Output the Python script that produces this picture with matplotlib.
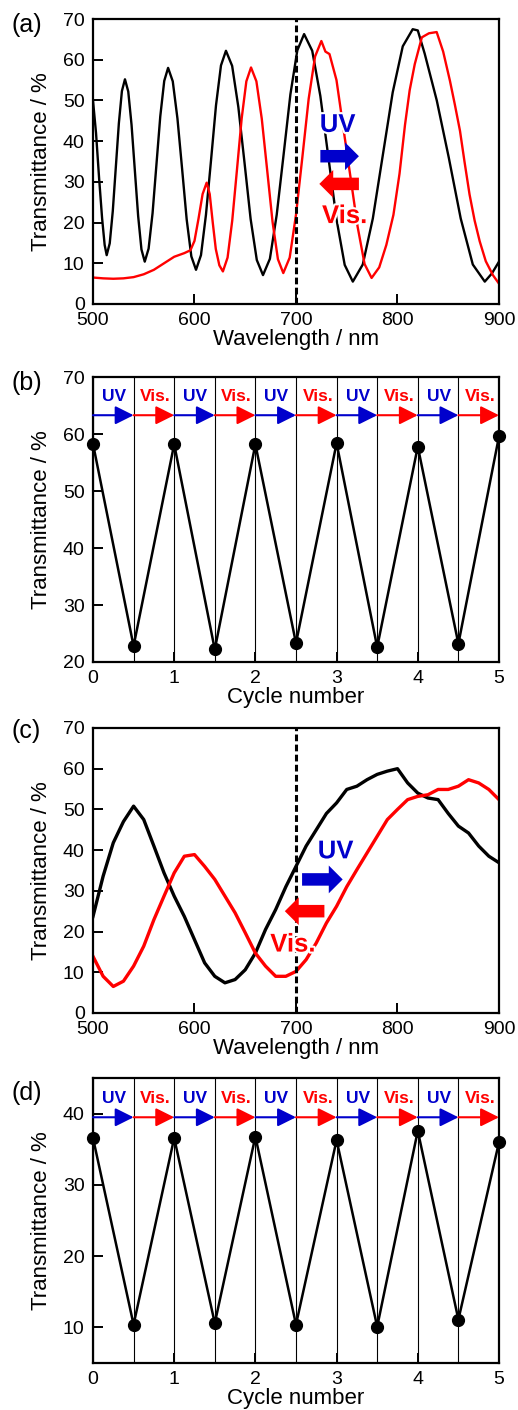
import matplotlib
matplotlib.use("Agg")
import matplotlib.pyplot as plt
import matplotlib.patheffects as pe

plt.rcParams['font.family'] = ['Liberation Sans', 'DejaVu Sans']

BLUE = '#0000cc'
RED = '#ff0000'

# ---- panel (a): spectra ----
a_black_wl = [500, 503, 506, 509, 511.5, 513.5, 516.5, 519.5, 522.5, 525.5, 528.5, 531.5,
              534.75, 538, 541.25, 544.5, 547.75, 551, 554.8, 558.7, 562.5, 566.3, 570.2, 574,
              578.6, 583.2, 587.8, 592.3, 596.9, 601.5, 606.4, 611.3, 616.3, 621.2, 626.1, 631,
              637.1, 643.2, 649.3, 655.3, 661.4, 667.5, 674.3, 681, 687.8, 694.5, 701.3, 708,
              716, 724, 732, 740, 748, 756, 765.8, 775.7, 785.5, 795.3, 805.2, 815, 820,
              826.8, 838.7, 850.5, 862.3, 874.2, 886, 893, 900]
a_black_t = [50, 42, 31, 21, 14.5, 12, 14.9, 22.8, 33.6, 44.4, 52.3, 55.2,
             52.2, 44, 32.8, 21.6, 13.4, 10.4, 13.6, 22.3, 34.2, 46.1, 54.8, 58,
             54.7, 45.6, 33.2, 20.8, 11.7, 8.4, 12, 21.9, 35.3, 48.8, 58.6, 62.2,
             58.5, 48.4, 34.7, 20.9, 10.8, 7.1, 11.1, 21.9, 36.7, 51.5, 62.3, 66.3,
             62.2, 51.1, 35.9, 20.7, 9.6, 5.5, 9.7, 21, 36.5, 52, 63.3, 67.5, 67.2,
             61.5, 50, 36, 21, 9.7, 5.5, 7.5, 10.4]
a_red_wl = [500, 510, 520, 530, 540, 550, 560, 570, 580, 590, 596, 600, 604, 608, 612,
            615, 618, 621, 624.5, 628, 632.6, 637.2, 641.9, 646.5, 651.1, 655.7,
            661, 666.3, 671.6, 676.9, 682.2, 687.5, 693.8, 700, 706.3, 712.5, 718.8, 725,
            729, 733, 739.9, 746.8, 753.8, 760.7, 767.6, 774.5, 782, 789, 796, 802, 807.4,
            812, 817, 824, 831, 838.6, 845, 851.7, 856.5, 861.6, 866, 871, 876, 881, 887,
            894, 900]
a_red_t = [6.5, 6.3, 6.2, 6.3, 6.6, 7.3, 8.4, 10, 11.6, 12.5, 13.2, 15.5, 21, 27, 29.8,
           27, 20, 13.5, 9.5, 8, 11.4, 20.5, 33.1, 45.6, 54.7, 58.1,
           54.7, 45.5, 32.9, 20.2, 11, 7.6, 11.4, 21.9, 36.1, 50.4, 60.8, 64.6,
           62, 61.4, 55, 43, 31, 19, 9.8, 6.4, 9, 14.5, 21.9, 32, 44,
           52.5, 58.9, 65.5, 66.5, 66.8, 62, 54.8, 49, 42.5, 35, 26.9, 20.5, 15.4, 10.5,
           7.1, 5]

# ---- panel (c): spectra ----
c_wl = [500, 510, 520, 530, 540, 550, 560, 570, 580, 590, 600, 610, 620, 630, 640,
        650, 660, 670, 680, 690, 700, 710, 720, 730, 740, 750, 760, 770, 780, 790,
        800, 810, 820, 830, 840, 850, 860, 870, 880, 890, 900]
c_black_t = [23.7, 33.6, 41.8, 47, 50.8, 47.5, 41, 34.4, 28.7, 23.7, 18, 12.3, 9, 7.4, 8.2,
             10.6, 14.7, 20.5, 25.4, 31, 36, 41, 45, 49, 51.6, 54.9, 55.7, 57.3, 58.6, 59.4,
             60, 56.5, 54, 52.8, 52.4, 49, 45.9, 44.2, 41, 38.5, 36.9]
c_red_t = [13.9, 9, 6.5, 7.8, 11.5, 16.4, 22.9, 28.7, 34.4, 38.5, 38.9, 36, 32.8, 28.7, 24.6,
           19.7, 14.7, 11.5, 9, 9, 10.2, 13.1, 17.2, 22.1, 26.2, 31, 35.2, 39.3, 43.4, 47.5,
           50, 52.4, 53.2, 53.6, 54.9, 54.9, 55.7, 57.3, 56.5, 54.9, 52.4]

# ---- panels (b), (d): cycling ----
cycles = [0, 0.5, 1, 1.5, 2, 2.5, 3, 3.5, 4, 4.5, 5]
b_t = [58.3, 22.8, 58.2, 22.2, 58.2, 23.3, 58.4, 22.6, 57.8, 23.2, 59.6]
d_t = [36.6, 10.4, 36.6, 10.6, 36.8, 10.4, 36.3, 10.1, 37.6, 11.1, 36.0]
steps = ['UV', 'Vis.'] * 5

fig = plt.figure(figsize=(5.18, 14.10), dpi=100)
L, W, H = 0.1795, 0.7838, 0.2021
ax_a = fig.add_axes([L, 0.7844, W, H])
ax_b = fig.add_axes([L, 0.5305, W, H])
ax_c = fig.add_axes([L, 0.2816, W, H])
ax_d = fig.add_axes([L, 0.0333, W, H])


def style(ax):
    for s in ax.spines.values():
        s.set_linewidth(1.6)
    ax.tick_params(direction='in', length=7, width=1.4, labelsize=14, pad=6)
    ax.set_ylabel('Transmittance / %', fontsize=16, labelpad=8)


def big_arrows(ax, uv_y, uv_span, vis_span, vis_y, uv_txt, vis_txt):
    st = 'simple,head_length=0.5,head_width=1.0,tail_width=0.45'
    ax.annotate('', xy=(uv_span[1], uv_y), xytext=(uv_span[0], uv_y),
                arrowprops=dict(arrowstyle=st, fc=BLUE, ec='none', shrinkA=0, shrinkB=0,
                                mutation_scale=20))
    ax.annotate('', xy=(vis_span[1], vis_y), xytext=(vis_span[0], vis_y),
                arrowprops=dict(arrowstyle=st, fc=RED, ec='none', shrinkA=0, shrinkB=0,
                                mutation_scale=20))
    ax.text(*uv_txt, 'UV', color=BLUE, fontsize=18.5, fontweight='bold', ha='center', va='center',
            path_effects=[pe.withStroke(linewidth=3, foreground='white')])
    ax.text(*vis_txt, 'Vis.', color=RED, fontsize=18.5, fontweight='bold', ha='center', va='center',
            path_effects=[pe.withStroke(linewidth=3, foreground='white')])


def spectrum(ax, wl_k, t_k, wl_r, t_r, lw):
    ax.plot(wl_k, t_k, color='black', lw=lw)
    ax.plot(wl_r, t_r, color=RED, lw=lw)
    ax.axvline(700, color='black', lw=2.2, ls=(0, (2.2, 1.1)))
    ax.set_xlim(500, 900)
    ax.set_ylim(0, 70)
    ax.set_xticks([500, 600, 700, 800, 900])
    ax.set_yticks(range(0, 71, 10))
    ax.set_xlabel('Wavelength / nm', fontsize=16, labelpad=0)
    style(ax)


def cycling(ax, vals, ylim, yticks, arrow_y, text_y):
    for c in cycles:
        ax.axvline(c, color='black', lw=0.8, zorder=1)
    ax.plot(cycles, vals, color='black', lw=1.8, marker='o', ms=8.5, zorder=3, clip_on=False)
    for i, lab in enumerate(steps):
        x0, x1 = cycles[i], cycles[i + 1]
        col = BLUE if lab == 'UV' else RED
        ax.annotate('', xy=(x1, arrow_y), xytext=(x0, arrow_y),
                    arrowprops=dict(arrowstyle='-|>,head_length=0.7,head_width=0.35', color=col,
                                    lw=1.5, shrinkA=0, shrinkB=0, mutation_scale=16))
        ax.text((x0 + x1) / 2 + (0.02 if lab == 'Vis.' else 0.01), text_y, lab, color=col,
                fontsize=12.5, fontweight='bold', ha='center', va='center')
    ax.set_xlim(0, 5)
    ax.set_ylim(*ylim)
    ax.set_xticks(range(0, 6))
    ax.set_yticks(yticks)
    ax.set_xlabel('Cycle number', fontsize=16, labelpad=0)
    style(ax)


spectrum(ax_a, a_black_wl, a_black_t, a_red_wl, a_red_t, 1.7)
big_arrows(ax_a, 36.3, (724, 762), (762, 723), 29.5, (741, 44), (748, 21.6))

cycling(ax_b, b_t, (20, 70), range(20, 71, 10), 63.3, 66.6)

spectrum(ax_c, c_wl, c_black_t, c_wl, c_red_t, 2.4)
big_arrows(ax_c, 32.8, (706, 746), (728, 689), 25, (739, 39.7), (697, 16.8))

cycling(ax_d, d_t, (5, 45), range(10, 41, 10), 39.5, 42.2)

for lab, yc in zip(['(a)', '(b)', '(c)', '(d)'], [25, 383, 731, 1093]):
    fig.text(0.022, 1 - yc / 1410, lab, fontsize=18, ha='left', va='center')

fig.savefig('out.png', dpi=100)
